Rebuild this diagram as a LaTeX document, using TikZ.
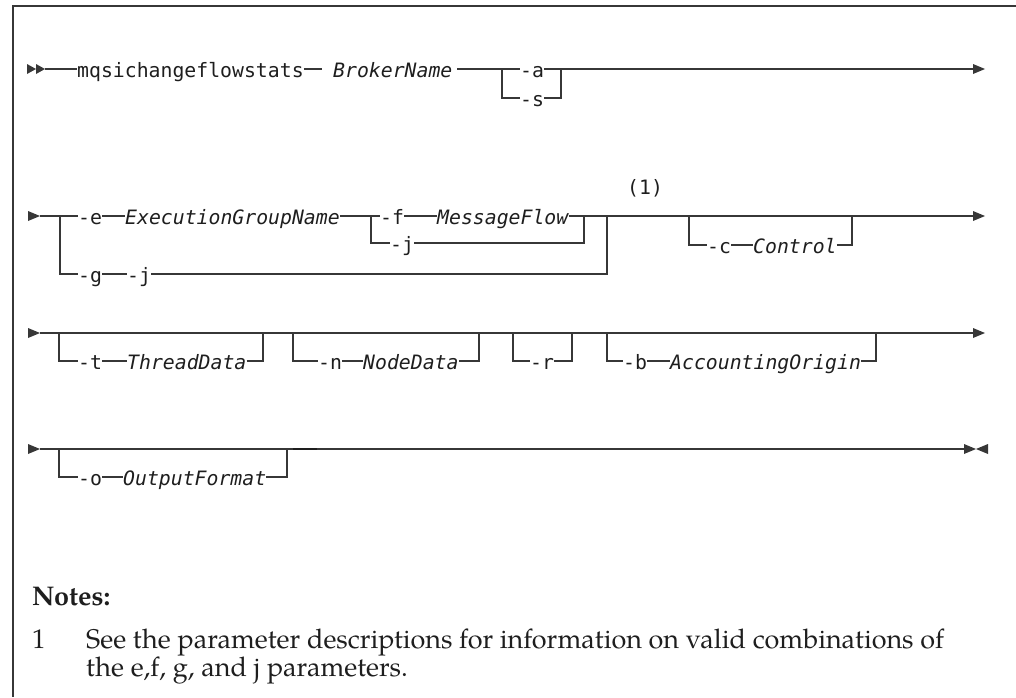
\documentclass[tikz,border=0pt]{standalone}
\usepackage{fontspec}
\newfontfamily\monofont{DejaVu Sans Mono}
\newfontfamily\notesfont{TeX Gyre Pagella}
\definecolor{lncol}{RGB}{55,55,55}
\definecolor{txtcol}{RGB}{30,30,30}
\begin{document}
\begin{tikzpicture}[x=1pt,y=-1pt,
  ln/.style={draw=lncol, line width=1.1pt},
  frame/.style={draw=lncol, line width=1.5pt},
  kw/.style={inner sep=0pt, text height=16pt, text depth=0pt, anchor=west,
    font=\monofont\fontsize{19.8}{24}\selectfont, text=txtcol},
  var/.style={kw, font=\monofont\itshape\fontsize{19.8}{24}\selectfont},
  note/.style={inner sep=0pt, anchor=base west, text=txtcol,
    font=\notesfont\fontsize{27}{30}\selectfont},
  tipfill/.style={fill=lncol}
]
\useasboundingbox (0,0) rectangle (1016,697);
% frame
\draw[frame] (1016,6) -- (13,6) -- (13,697);

% ---------- row 1 ----------
\fill[tipfill] (27,64) -- (36,69) -- (27,74) -- cycle;
\fill[tipfill] (36,64) -- (45,69) -- (36,74) -- cycle;
\coordinate (r1s) at (45,69);
\node[kw] (cmd) at (77,69) {mqsichangeflowstats};
\coordinate (r1d) at (322,69);
\node[var] (broker) at (333,69) {BrokerName};
\coordinate (r1b) at (457,69);
\coordinate (r1br) at (502,69);
\node[kw] (a) at (520,69) {-a};
\node[kw] (s) at (520,98) {-s};
\coordinate (r1bj) at (561,69);
\coordinate (r1e) at (973,69);
\draw[ln] (r1s) -- (cmd.west);
\draw[ln] (cmd.east) -- (r1d);
\draw[ln] (r1b) -- (a.west);
\draw[ln] (a.east) -- (r1e);
\draw[ln] (r1br) |- (s.west);
\draw[ln] (s.east) -| (r1bj);
\fill[tipfill] (973,64) -- (985,69) -- (973,74) -- cycle;

% ---------- row 2 ----------
\fill[tipfill] (28,211) -- (40,216) -- (28,221) -- cycle;
\coordinate (r2s) at (40,216);
\coordinate (r2b) at (60,216);
\node[kw] (e) at (78,216) {-e};
\node[var] (egn) at (125,216) {ExecutionGroupName};
\coordinate (r2fb) at (371,216);
\node[kw] (f) at (380,216) {-f};
\node[var] (mf) at (437,216) {MessageFlow};
\coordinate (r2fj) at (584,216);
\node[kw] (j1) at (390,243) {-j};
\node[kw] (g) at (78,274) {-g};
\node[kw] (j2) at (127,274) {-j};
\coordinate (r2gj) at (607,216);
\node[kw] (n1) at (627,186) {(1)};
\coordinate (r2cb) at (689,216);
\node[kw] (c) at (707,245) {-c};
\node[var] (ctl) at (753,245) {Control};
\coordinate (r2cj) at (852,216);
\coordinate (r2e) at (973,216);
\draw[ln] (r2s) -- (e.west);
\draw[ln] (e.east) -- (egn.west);
\draw[ln] (egn.east) -- (f.west);
\draw[ln] (f.east) -- (mf.west);
\draw[ln] (mf.east) -- (r2e);
\draw[ln] (r2b) |- (g.west);
\draw[ln] (g.east) -- (j2.west);
\draw[ln] (j2.east) -| (r2gj);
\draw[ln] (r2fb) |- (j1.west);
\draw[ln] (j1.east) -| (r2fj);
\draw[ln] (r2cb) |- (c.west);
\draw[ln] (c.east) -- (ctl.west);
\draw[ln] (ctl.east) -| (r2cj);
\fill[tipfill] (973,211) -- (985,216) -- (973,221) -- cycle;

% ---------- row 3 ----------
\fill[tipfill] (28,328) -- (40,333) -- (28,338) -- cycle;
\coordinate (r3s) at (40,333);
\coordinate (r3e) at (973,333);
\draw[ln] (r3s) -- (r3e);
\coordinate (r3tb) at (59,333);
\node[kw] (t) at (78,361) {-t};
\node[var] (td) at (127,361) {ThreadData};
\coordinate (r3tj) at (263,333);
\coordinate (r3nb) at (293,333);
\node[kw] (n) at (318,361) {-n};
\node[var] (nd) at (363,361) {NodeData};
\coordinate (r3nj) at (479,333);
\coordinate (r3rb) at (513,333);
\node[kw] (r) at (530,361) {-r};
\coordinate (r3rj) at (572,333);
\coordinate (r3bb) at (607,333);
\node[kw] (b) at (623,361) {-b};
\node[var] (ao) at (670,361) {AccountingOrigin};
\coordinate (r3bj) at (876,333);
\draw[ln] (r3tb) |- (t.west);
\draw[ln] (t.east) -- (td.west);
\draw[ln] (td.east) -| (r3tj);
\draw[ln] (r3nb) |- (n.west);
\draw[ln] (n.east) -- (nd.west);
\draw[ln] (nd.east) -| (r3nj);
\draw[ln] (r3rb) |- (r.west);
\draw[ln] (r.east) -| (r3rj);
\draw[ln] (r3bb) |- (b.west);
\draw[ln] (b.east) -- (ao.west);
\draw[ln] (ao.east) -| (r3bj);
\fill[tipfill] (973,328) -- (985,333) -- (973,338) -- cycle;

% ---------- row 4 ----------
\fill[tipfill] (28,444) -- (40,449) -- (28,454) -- cycle;
\coordinate (r4s) at (40,449);
\coordinate (r4e) at (964,449);
\draw[ln] (r4s) -- (r4e);
\coordinate (r4ob) at (59,449);
\node[kw] (o) at (78,477) {-o};
\node[var] (of) at (123,477) {OutputFormat};
\coordinate (r4oj) at (287,449);
\draw[ln] (r4ob) |- (o.west);
\draw[ln] (o.east) -- (of.west);
\draw[ln] (of.east) -| (r4oj);
\coordinate (r4k1) at (293,449);
\coordinate (r4k2) at (317,449);
\draw[draw=txtcol, line width=2pt] (r4k1) -- (r4k2);
\fill[tipfill] (964,444) -- (976,449) -- (964,454) -- cycle;
\fill[tipfill] (988,444) -- (976,449) -- (988,454) -- cycle;

% ---------- notes ----------
\node[note, font=\notesfont\bfseries\fontsize{27}{30}\selectfont] (notes) at (32,605) {Notes:};
\node[note] (num) at (32,648) {1};
\node[note] (l1) at (86,648) {See the parameter descriptions for information on valid combinations of};
\node[note] (l2) at (86,676) {the e,f, g, and j parameters.};
\end{tikzpicture}
\end{document}
